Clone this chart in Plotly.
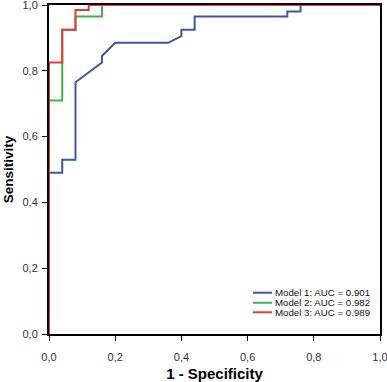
import plotly.graph_objects as go

# Model 1 (blue)
m1_x = [0, 0, 0.04, 0.04, 0.08, 0.08, 0.16, 0.16, 0.20, 0.36, 0.40, 0.40, 0.44, 0.44, 0.72, 0.72, 0.76, 0.76, 1.0]
m1_y = [0, 0.49, 0.49, 0.53, 0.53, 0.765, 0.825, 0.845, 0.885, 0.885, 0.905, 0.925, 0.925, 0.965, 0.965, 0.98, 0.98, 1.0, 1.0]
# Model 2 (green)
m2_x = [0, 0, 0.04, 0.04, 0.08, 0.08, 0.16, 0.16, 1.0]
m2_y = [0, 0.71, 0.71, 0.925, 0.925, 0.965, 0.965, 1.0, 1.0]
# Model 3 (red)
m3_x = [0, 0, 0.04, 0.04, 0.08, 0.08, 0.12, 0.12, 1.0]
m3_y = [0, 0.825, 0.825, 0.925, 0.925, 0.985, 0.985, 1.0, 1.0]

names = ["Model 1: AUC = 0.901", "Model 2: AUC = 0.982", "Model 3: AUC = 0.989"]
colors = ["#3d58a8", "#3fb34a", "#e53a35"]

tick_vals = [0, 0.2, 0.4, 0.6, 0.8, 1.0]
tick_text = ["0,0", "0,2", "0,4", "0,6", "0,8", "1,0"]

FONT = "Liberation Sans, Arial, sans-serif"

fig = go.Figure()
for xs, ys, n, c in zip([m1_x, m2_x, m3_x], [m1_y, m2_y, m3_y], names, colors):
    fig.add_trace(go.Scatter(x=xs, y=ys, mode="lines", name=n, showlegend=False,
                             line=dict(color=c, width=2)))

# compact legend (lines + labels) drawn in paper coordinates
leg_y = [0.1255, 0.095, 0.066]
for n, c, ly in zip(names, colors, leg_y):
    fig.add_shape(type="line", xref="paper", yref="paper",
                  x0=0.616, x1=0.674, y0=ly, y1=ly,
                  line=dict(color=c, width=2))
    fig.add_annotation(xref="paper", yref="paper", x=0.68, y=ly,
                       xanchor="left", yanchor="middle", text=n, showarrow=False,
                       borderpad=0,
                       font=dict(family=FONT, size=9.7, color="#111"))

axis_common = dict(
    range=[0, 1], tickvals=tick_vals, ticktext=tick_text, automargin=False,
    showgrid=False, zeroline=False, showline=True, linecolor="black",
    linewidth=2, mirror=True, ticks="outside", ticklen=5, tickwidth=1,
    tickcolor="black", ticklabeloverflow="allow",
    tickfont=dict(family=FONT, size=11, color="#333"),
)

fig.update_layout(
    template="none",
    width=387, height=382,
    margin=dict(l=49, r=7, t=5, b=48),
    paper_bgcolor="white", plot_bgcolor="white",
    xaxis=dict(**axis_common, ticklabelstandoff=7,
               title=dict(text="<b>1 - Specificity</b>", standoff=8,
                          font=dict(family=FONT, size=15, color="black"))),
    yaxis=dict(**axis_common, ticklabelstandoff=2,
               title=dict(text="<b>Sensitivity</b>", standoff=6,
                          font=dict(family=FONT, size=13.5, color="black"))),
    showlegend=False,
)

fig.write_html("out.html", config={"displayModeBar": False},
               post_script="document.body.style.margin='0';document.body.style.padding='0';")
